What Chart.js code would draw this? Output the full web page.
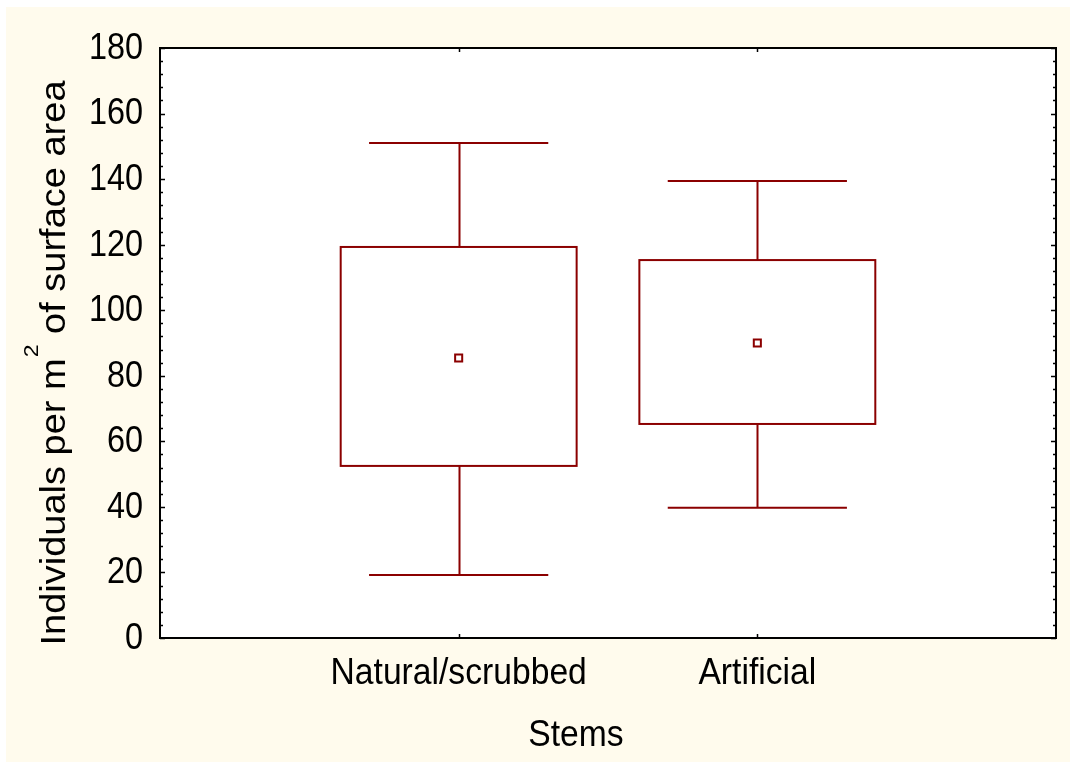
<!DOCTYPE html>
<html>
<head>
<meta charset="utf-8">
<script src="https://cdn.jsdelivr.net/npm/chart.js@4.4.1/dist/chart.umd.min.js"></script>
<style>
    html, body { margin: 0; padding: 0; background: #fff; }
    #moldura { position: absolute; left: 6px; top: 7px; width: 1064px; height: 755px; background: #fffbed; }
    canvas { display: block; }
</style>
</head>
<body>
<div id="moldura"><canvas id="grafico" width="1064" height="755"></canvas></div>
<script>
// 1. DADOS
const categorias = ['Natural/scrubbed', 'Artificial'];
const minimos = [19.2, 39.7];
const quartil1 = [52.5, 65.3];
const medias = [85.4, 90.0];
const quartil3 = [119.3, 115.3];
const maximos = [151.0, 139.4];
const ticksY = [0, 20, 40, 60, 80, 100, 120, 140, 160, 180];

const COR = '#8b0000';
const FONTE = "'Liberation Sans', Arial, sans-serif";
const LARG_CAIXA = 0.79;   // largura da caixa em unidades do eixo x
const LARG_BIGODE = 0.6;   // largura das barrinhas dos extremos

Chart.defaults.font.family = FONTE;
Chart.defaults.color = '#000';

// texto com escala horizontal (o original tem fonte meio "apertada")
function texto(ctx, str, x, y, alinh, base, tam, esc) {
    ctx.save();
    ctx.translate(x, y);
    ctx.scale(esc, 1);
    ctx.font = tam + 'px ' + FONTE;
    ctx.textAlign = alinh;
    ctx.textBaseline = base;
    ctx.fillText(str, 0, 0);
    ctx.restore();
}

// 2. PLUGIN: fundo, caixas, moldura, ticks internos e textos
const boxPlot = {
    id: 'boxPlot',
    beforeDraw(chart) {
        const { ctx, chartArea: a } = chart;
        ctx.save();
        ctx.fillStyle = '#fff';
        ctx.fillRect(a.left, a.top, a.right - a.left, a.bottom - a.top);
        ctx.restore();
    },
    beforeDatasetsDraw(chart) {
        const { ctx, scales: { x, y } } = chart;
        ctx.save();
        ctx.strokeStyle = COR;
        ctx.lineWidth = 2;
        categorias.forEach((c, i) => {
            const pos = i + 1;
            const cx = Math.round(x.getPixelForValue(pos)) + 0.5;
            const b0 = x.getPixelForValue(pos - LARG_CAIXA / 2);
            const b1 = x.getPixelForValue(pos + LARG_CAIXA / 2);
            const w0 = x.getPixelForValue(pos - LARG_BIGODE / 2);
            const w1 = x.getPixelForValue(pos + LARG_BIGODE / 2);
            const yMin = y.getPixelForValue(minimos[i]);
            const yQ1 = y.getPixelForValue(quartil1[i]);
            const yQ3 = y.getPixelForValue(quartil3[i]);
            const yMax = y.getPixelForValue(maximos[i]);
            ctx.beginPath();
            ctx.moveTo(cx, yMax); ctx.lineTo(cx, yQ3);
            ctx.moveTo(cx, yQ1); ctx.lineTo(cx, yMin);
            ctx.moveTo(w0, yMax); ctx.lineTo(w1, yMax);
            ctx.moveTo(w0, yMin); ctx.lineTo(w1, yMin);
            ctx.stroke();
            ctx.strokeRect(b0, yQ3, b1 - b0, yQ1 - yQ3);
        });
        ctx.restore();
    },
    afterDraw(chart) {
        const { ctx, chartArea: a, scales: { x, y } } = chart;
        ctx.save();
        ctx.strokeStyle = '#000';
        ctx.lineWidth = 2;
        ctx.strokeRect(a.left, a.top, a.right - a.left, a.bottom - a.top);

        // ticks dentro da área (maiores a cada 20, menores a cada 4)
        ctx.lineWidth = 1.5;
        ctx.beginPath();
        for (let v = 0; v <= 180; v += 4) {
            const py = Math.round(y.getPixelForValue(v)) + 0.5;
            const t = v % 20 === 0 ? 5 : 3;
            ctx.moveTo(a.left, py); ctx.lineTo(a.left + t, py);
            ctx.moveTo(a.right, py); ctx.lineTo(a.right - t, py);
        }
        x.ticks.forEach(t => {
            const px = Math.round(x.getPixelForValue(t.value)) + 0.5;
            ctx.moveTo(px, a.bottom); ctx.lineTo(px, a.bottom - 4);
            ctx.moveTo(px, a.top); ctx.lineTo(px, a.top + 4);
        });
        ctx.stroke();
        ctx.restore();

        // rótulos dos eixos
        ctx.save();
        ctx.fillStyle = '#000';
        y.ticks.forEach(t => {
            texto(ctx, String(t.value), a.left - 17, y.getPixelForValue(t.value) + 1, 'right', 'middle', 36, 0.9);
        });
        x.ticks.forEach(t => {
            texto(ctx, categorias[t.value - 1], x.getPixelForValue(t.value), 677, 'center', 'alphabetic', 36, 0.935);
        });
        texto(ctx, 'Stems', 570, 739, 'center', 'alphabetic', 36, 0.935);

        // título do eixo y com expoente
        ctx.translate(59, 356);
        ctx.rotate(-Math.PI / 2);
        ctx.scale(1, 0.9);
        ctx.textBaseline = 'alphabetic';
        ctx.textAlign = 'left';
        const p1 = 'Individuals per m', p2 = '2', p3 = ' of surface area';
        ctx.font = '38px ' + FONTE;
        const w1 = ctx.measureText(p1).width, w3 = ctx.measureText(p3).width;
        ctx.font = '23px ' + FONTE;
        const w2 = ctx.measureText(p2).width + 1;
        const x0 = -(w1 + w2 + w3) / 2;
        ctx.font = '38px ' + FONTE;
        ctx.fillText(p1, x0, 0);
        ctx.font = '23px ' + FONTE;
        ctx.fillText(p2, x0 + w1 + 1, -30);
        ctx.font = '38px ' + FONTE;
        ctx.fillText(p3, x0 + w1 + w2, 0);
        ctx.restore();
    }
};

// 3. GRÁFICO
new Chart(document.getElementById('grafico'), {
    type: 'scatter',
    data: {
        datasets: [{
            label: 'Média',
            data: medias.map((m, i) => ({ x: i + 1, y: m })),
            pointStyle: 'rect',
            pointRadius: 5,
            pointHoverRadius: 5,
            borderWidth: 2,
            borderColor: COR,
            backgroundColor: '#fff'
        }]
    },
    options: {
        responsive: false,
        animation: false,
        layout: { padding: { left: 0, top: 41, right: 14, bottom: 0 } },
        plugins: { legend: { display: false }, tooltip: { enabled: false } },
        scales: {
            x: {
                type: 'linear',
                min: 0,
                max: 3,
                afterBuildTicks: s => { s.ticks = categorias.map((c, i) => ({ value: i + 1 })); },
                afterFit: s => { s.height = 124; },
                ticks: { display: false },
                grid: { display: false, drawTicks: false },
                border: { display: false }
            },
            y: {
                min: 0,
                max: 180,
                afterBuildTicks: s => { s.ticks = ticksY.map(v => ({ value: v })); },
                afterFit: s => { s.width = 154; },
                ticks: { display: false },
                grid: { display: false, drawTicks: false },
                border: { display: false }
            }
        }
    },
    plugins: [boxPlot]
});
</script>
</body>
</html>
